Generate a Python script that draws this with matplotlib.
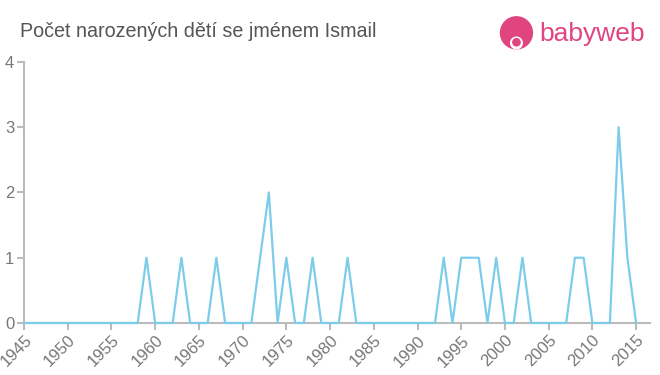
import numpy as np
import matplotlib
matplotlib.use('Agg')
import matplotlib.pyplot as plt
from matplotlib.patches import Circle

plt.rcParams['font.family'] = ['Liberation Sans', 'DejaVu Sans']

years = list(range(1945, 2016))
counts = [0] * len(years)
# years with births
births = {1959: 1, 1963: 1, 1967: 1, 1972: 1, 1973: 2, 1975: 1, 1978: 1,
          1982: 1, 1993: 1, 1995: 1, 1996: 1, 1997: 1, 1999: 1, 2002: 1,
          2008: 1, 2009: 1, 2013: 3, 2014: 1}
for y, c in births.items():
    counts[years.index(y)] = c

xticks = list(range(1945, 2016, 5))
yticks = [0, 1, 2, 3, 4]

fig = plt.figure(figsize=(6.6, 3.75), dpi=100)
ax = fig.add_axes([0.0364, 0.1387, 0.9486, 0.696])
ax.plot(years, counts, color='#7dcdea', lw=1.6, clip_on=False, zorder=3)

ax.set_xlim(1945, 2016.6)
ax.set_ylim(0, 4)
ax.set_xticks(xticks)
ax.set_xticklabels([str(x) for x in xticks], rotation=45, ha='right',
                   rotation_mode='anchor')
ax.set_yticks(yticks)
for s in ['top', 'right']:
    ax.spines[s].set_visible(False)
for s in ['left', 'bottom']:
    ax.spines[s].set_color('#bbbbbb')
    ax.spines[s].set_linewidth(1.5)
ax.tick_params(axis='x', colors='#bbbbbb', labelcolor='#777777', labelsize=12,
               length=5, width=1.5, pad=2)
ax.tick_params(axis='y', colors='#bbbbbb', labelcolor='#777777', labelsize=12,
               length=5, width=1.5, pad=2)

fig.text(0.03, 0.915, 'Počet narozených dětí se jménem Ismail', fontsize=14.2,
         color='#555555', va='center', ha='left')

# logo
pink = '#e0457f'
lax = fig.add_axes([0.755, 0.86, 0.055, 0.105])
lax.set_xlim(0, 1)
lax.set_ylim(0, 1)
lax.set_aspect('equal')
lax.axis('off')
lax.add_patch(Circle((0.5, 0.5), 0.44, color=pink))
lax.add_patch(Circle((0.5, 0.22), 0.16, color='white'))
lax.add_patch(Circle((0.5, 0.24), 0.10, color=pink))
fig.text(0.817, 0.91, 'babyweb', fontsize=19, color=pink, va='center', ha='left')

fig.savefig('out.png', dpi=100)
